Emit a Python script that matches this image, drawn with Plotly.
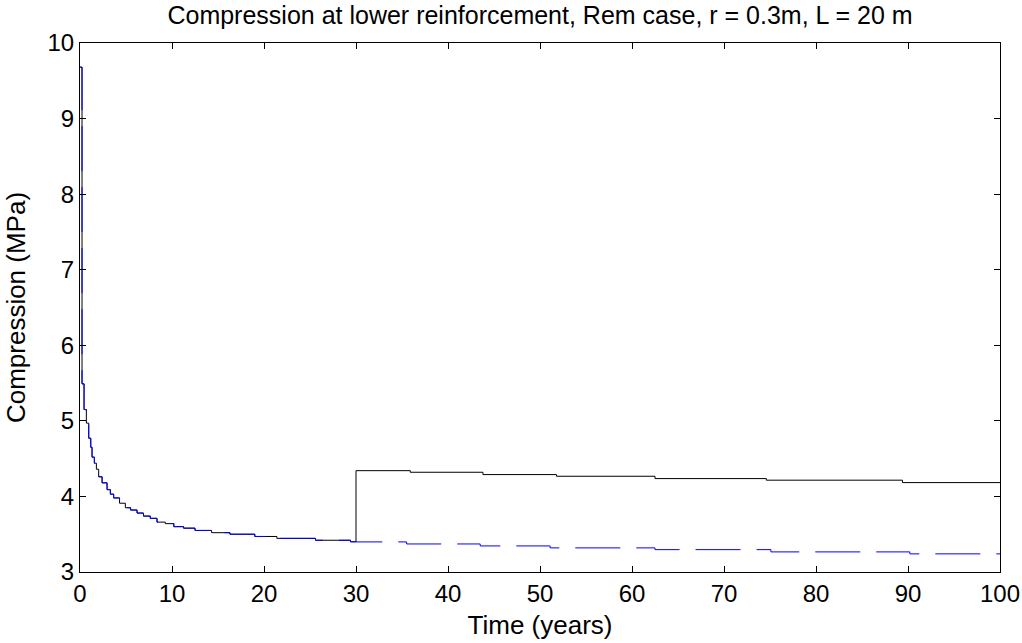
import plotly.graph_objects as go

# Shared early response (both cases identical up to 30 years)
t_early = [0, 0.22, 0.44, 0.69, 0.95, 1.17, 1.31, 1.56, 1.78, 2.03, 2.4, 2.94, 3.3, 3.66,
           4.3, 4.93, 5.5, 6.2, 6.9, 7.64, 8.37, 9.27, 10.2, 11.26, 12.5, 14.3, 16.3,
           19.0, 21.4, 25.6, 29.4]
v_early = [9.68, 5.49, 5.15, 4.97, 4.77, 4.65, 4.52, 4.44, 4.36, 4.26, 4.18, 4.09, 4.03, 3.98,
           3.91, 3.85, 3.82, 3.78, 3.74, 3.71, 3.66, 3.64, 3.60, 3.58, 3.55, 3.52, 3.50,
           3.47, 3.445, 3.42, 3.40]

# Black (solid) case after 30 years
t_black_late = [30, 30, 35.9, 43.8, 51.8, 62.5, 74.6, 89.4, 100]
v_black_late = [3.398, 4.341, 4.32, 4.289, 4.267, 4.236, 4.215, 4.183, 4.183]

# Blue (dashed) case after 30 years
t_blue_late = [30, 35.5, 43.5, 51.1, 62.5, 75.1, 90.2, 100]
v_blue_late = [3.398, 3.371, 3.345, 3.319, 3.296, 3.266, 3.24, 3.24]

x_ticks = [0, 10, 20, 30, 40, 50, 60, 70, 80, 90, 100]
y_ticks = [3, 4, 5, 6, 7, 8, 9, 10]

FONT = "Liberation Sans, Arial, sans-serif"

fig = go.Figure()
fig.add_trace(go.Scatter(
    x=t_early + t_black_late, y=v_early + v_black_late,
    mode="lines", line=dict(color="black", width=1, shape="hv"),
    showlegend=False, hoverinfo="skip"))
fig.add_trace(go.Scatter(
    x=t_early + t_blue_late, y=v_early + v_blue_late,
    mode="lines", line=dict(color="#0000ff", width=1, shape="hv", dash="45px,16px"),
    showlegend=False, hoverinfo="skip"))

fig.update_layout(
    width=1022, height=643,
    margin=dict(l=80, r=22, t=43, b=71, autoexpand=False),
    paper_bgcolor="white", plot_bgcolor="white",
    font=dict(family=FONT, size=24, color="black"),
    title=dict(text="Compression at lower reinforcement, Rem case, r = 0.3m, L = 20 m",
               x=0.5284, xanchor="center", y=0.976, yanchor="middle",
               font=dict(family=FONT, size=25, color="black")),
    xaxis=dict(range=[0, 100], tickvals=x_ticks, ticktext=[str(v) for v in x_ticks],
               ticks="inside", ticklen=6, tickcolor="black", tickwidth=1,
               showline=True, linecolor="black", linewidth=1, mirror="ticks",
               showgrid=False, zeroline=False, automargin=False,
               tickfont=dict(family=FONT, size=24),
               title=dict(text="Time (years)", standoff=10, font=dict(family=FONT, size=26))),
    yaxis=dict(range=[3, 10], tickvals=y_ticks, ticktext=[str(v) for v in y_ticks],
               ticks="inside", ticklen=6, tickcolor="black", tickwidth=1,
               showline=True, linecolor="black", linewidth=1, mirror="ticks",
               showgrid=False, zeroline=False, automargin=False,
               tickfont=dict(family=FONT, size=24),
               title=dict(text="Compression (MPa)", standoff=14, font=dict(family=FONT, size=26))),
)

fig.write_html("out.html")
